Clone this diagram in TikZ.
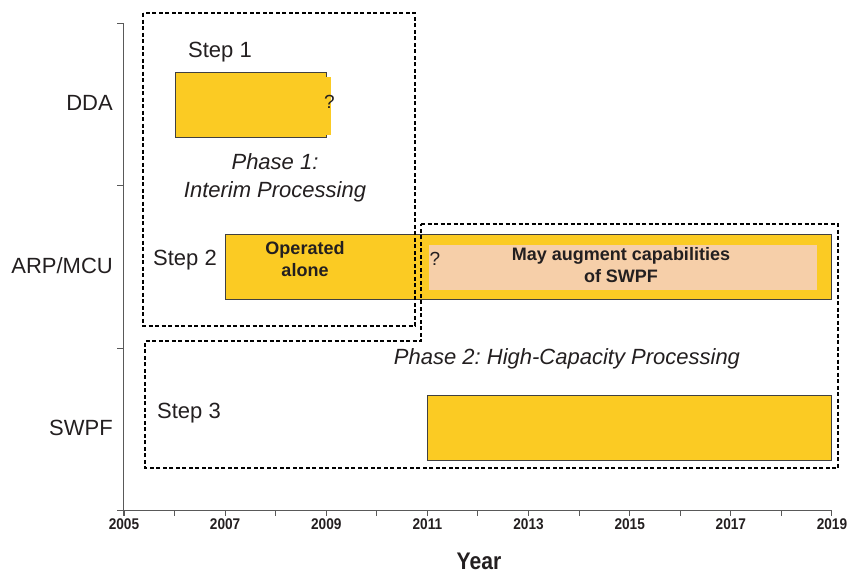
\documentclass[tikz,border=0pt]{standalone}
\usepackage{fontspec}
\setmainfont{Liberation Sans}
\newfontfamily\narrowbold[FakeStretch=0.88]{Liberation Sans}
\definecolor{baryellow}{HTML}{FBCB23}
\definecolor{peach}{HTML}{F6CFA9}
\definecolor{ink}{HTML}{231F20}
\frenchspacing
\begin{document}
\begin{tikzpicture}[x=1pt,y=-1pt,
  bar/.style={fill=baryellow, draw=black!75, line width=0.9pt, anchor=north west, inner sep=0pt},
  inner/.style={fill=peach, draw=none, anchor=north west, inner sep=0pt},
  phasebox/.style={draw=black, line width=1.3pt, dash pattern=on 4pt off 2.5pt},
  axisline/.style={draw=black!65, line width=1pt},
  lab/.style={font=\fontsize{22}{26}\selectfont, text=ink, inner sep=0pt},
  itlab/.style={font=\fontsize{22}{28}\selectfont\itshape, text=ink, inner sep=0pt, align=center},
  boldlab/.style={font=\fontsize{18}{22}\selectfont\bfseries, text=ink, inner sep=0pt, align=center},
  qlab/.style={font=\fontsize{19}{22}\selectfont, text=ink, inner sep=0pt},
  yearlab/.style={font=\narrowbold\fontsize{15.5}{18}\selectfont\bfseries, text=ink, inner sep=0pt}
]
\useasboundingbox (0,0) rectangle (849,573);

% axes
\draw[axisline] (123,23) -- (123,516);
\draw[axisline] (117,510) -- (831,510);
\foreach \y in {23,185,348} \draw[axisline] (117,\y) -- (123,\y);
\foreach \i in {0,...,14} \draw[axisline] ({124+\i*50.57},510) -- ({124+\i*50.57},516);
\foreach \i/\yr in {0/2005,2/2007,4/2009,6/2011,8/2013,10/2015,12/2017,14/2019}
  \node[yearlab] (yr\yr) at ({124+\i*50.57},524) {\yr};
\node[font=\narrowbold\fontsize{24}{28}\selectfont\bfseries, text=ink, inner sep=0pt] (year) at (479,561) {Year};

% row labels
\node[lab, anchor=east] (dda) at (113,103) {DDA};
\node[lab, anchor=east] (arp) at (113,266) {ARP/MCU};
\node[lab, anchor=east] (swpf) at (113,428) {SWPF};

% bars
\node[bar, minimum width=151pt, minimum height=65pt] (bar1) at (175,72) {};
\fill[baryellow] (325.5,76.5) rectangle (331,134.5);
\node[qlab] (q1) at (329.5,102) {?};

\node[bar, minimum width=606pt, minimum height=65pt] (bar2) at (225,234) {};
\node[inner, minimum width=388pt, minimum height=45pt] (peach) at (429,245) {};
\node[qlab] (q2) at (435,259) {?};
\node[boldlab] (op) at (305,259) {Operated\\alone};
\node[boldlab] (may) at (621,265.5) {May augment capabilities\\of SWPF};

\node[bar, minimum width=404pt, minimum height=65pt] (bar3) at (427,395) {};

% phase boxes
\draw[phasebox] (143,13) rectangle (415,326);
\draw[phasebox] (421,224) -- (838,224) -- (838,468) -- (145,468) -- (145,341) -- (421,341) -- cycle;

% labels
\node[lab] (s1) at (220,52) {Step 1};
\node[itlab] (ph1) at (275,178) {Phase 1:\\Interim Processing};
\node[lab] (s2) at (185,260) {Step 2};
\node[lab] (s3) at (189,413) {Step 3};
\node[itlab] (ph2) at (567,359) {Phase 2: High-Capacity Processing};
\end{tikzpicture}
\end{document}
